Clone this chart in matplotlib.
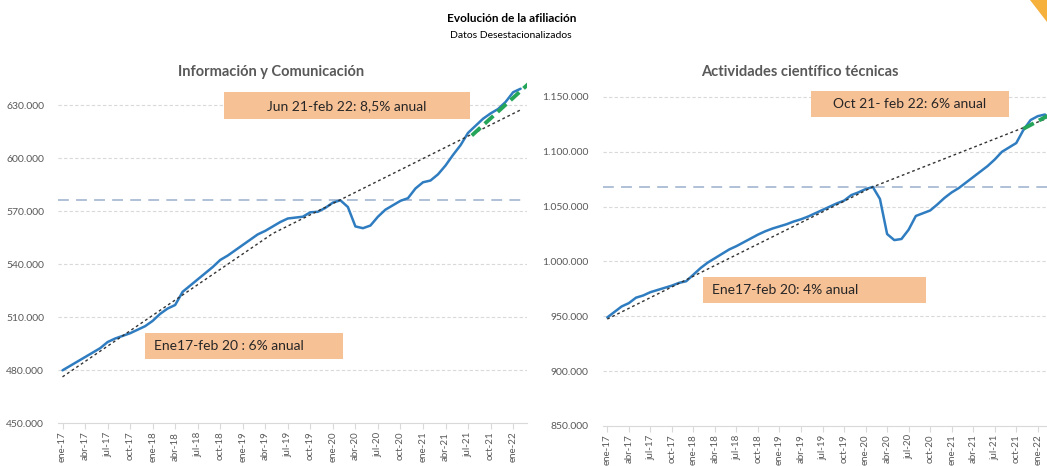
import matplotlib
matplotlib.use("Agg")
import matplotlib.pyplot as plt
from matplotlib.patches import Rectangle, Polygon
from matplotlib.ticker import FuncFormatter
import numpy as np

plt.rcParams['font.family'] = ['Lato', 'DejaVu Sans']

# ---------------- data (thousands of affiliates, monthly from ene-17) ----------------
months = list(range(62))  # ene-17 .. feb-22

info_com = [480.0, 482.5, 485.0, 487.5, 490.0, 492.5, 496.0, 498.0, 499.5, 501.0,
            503.0, 505.0, 508.0, 512.0, 515.0, 517.0, 524.5, 528.0, 531.5, 535.0,
            538.5, 542.5, 545.0, 548.0, 551.0, 554.0, 557.0, 559.0, 561.5, 564.0,
            566.0, 566.5, 567.0, 569.5, 569.8, 572.0, 575.0, 576.3, 572.5, 561.5,
            560.5, 562.0, 567.0, 571.0, 573.5, 576.0, 577.5, 583.0, 586.5, 587.5,
            591.0, 596.0, 602.0, 607.5, 614.5, 618.5, 622.5, 625.5, 628.0, 632.0,
            637.5, 639.5]

cient_tec = [949.0, 954.0, 959.0, 962.0, 967.0, 969.0, 972.0, 974.0, 976.0, 978.0,
             980.5, 982.0, 988.0, 994.0, 999.0, 1003.0, 1007.0, 1011.0, 1014.0, 1017.5,
             1021.0, 1024.5, 1027.5, 1030.0, 1032.0, 1034.0, 1036.5, 1038.5, 1041.0, 1044.0,
             1047.0, 1050.0, 1053.0, 1055.5, 1060.5, 1063.0, 1066.0, 1068.0, 1057.0, 1025.0,
             1019.5, 1020.5, 1029.0, 1041.5, 1044.0, 1046.5, 1052.0, 1058.0, 1063.0, 1067.0,
             1072.0, 1077.0, 1082.0, 1087.0, 1093.0, 1100.0, 1104.0, 1108.0, 1120.0, 1129.0,
             1132.5, 1134.0]

# dotted pre-covid trend (month index, value)
trend_ic_m = [0, 28, 61]
trend_ic_v = [476.3, 557.5, 627.5]
trend_ct_m = [0, 37, 61.5]
trend_ct_v = [947.5, 1068.0, 1131.0]

# green recent-trend segments
green_ic_m = [54.5, 62.5]
green_ic_v = [613.0, 644.0]
green_ct_m = [58.0, 62.0]
green_ct_v = [1121.0, 1135.0]

# feb-20 reference levels
ref_ic = 576.3
ref_ct = 1068.0

tick_months = list(range(0, 61, 3))
tick_labels = ['ene-17', 'abr-17', 'jul-17', 'oct-17', 'ene-18', 'abr-18', 'jul-18', 'oct-18',
               'ene-19', 'abr-19', 'jul-19', 'oct-19', 'ene-20', 'abr-20', 'jul-20', 'oct-20',
               'ene-21', 'abr-21', 'jul-21', 'oct-21', 'ene-22']

yt_ic = [450, 480, 510, 540, 570, 600, 630]
yt_ct = [850, 900, 950, 1000, 1050, 1100, 1150]

titles = ['Información y Comunicación', 'Actividades científico técnicas']
box_texts = ['Jun 21-feb 22: 8,5% anual', 'Ene17-feb 20 : 6% anual',
             'Oct 21- feb 22: 6% anual', 'Ene17-feb 20: 4% anual']

# ---------------- figure ----------------
W, H = 1047, 466
fig = plt.figure(figsize=(W / 100, H / 100), dpi=100)

def fx(px):
    return px / W

def fy(py):
    return 1 - py / H

ax1 = fig.add_axes([fx(58), fy(423.3), fx(527 - 58), (423.3 - 79) / H])
ax2 = fig.add_axes([fx(602.7), fy(426), fx(1050 - 602.7), (426 - 86) / H])

BLUE = '#2f7dc0'
GREEN = '#25a55a'
REF = '#a9bbd3'
GRID = '#d9d9d9'
TXT = '#595959'

fmt = FuncFormatter(lambda v, p: f"{int(round(v * 1000)):,}".replace(',', '.'))

def style(ax, series, tm, tv, gm, gv, ref, yticks, ylim, xlim):
    ax.plot(months, series, color=BLUE, lw=1.8, zorder=3, solid_capstyle='round')
    ax.plot(tm, tv, color='#333333', lw=1.0, ls=(0, (2, 2)), zorder=4)
    ax.plot(gm, gv, color=GREEN, lw=2.8, ls=(0, (3, 1.5)), zorder=5)
    ax.axhline(ref, color=REF, lw=1.3, ls=(0, (6, 4)), zorder=2)
    ax.set_xlim(*xlim)
    ax.set_ylim(*ylim)
    ax.set_yticks(yticks)
    ax.yaxis.set_major_formatter(fmt)
    ax.set_xticks(tick_months)
    ax.set_xticklabels(tick_labels, rotation=90, fontsize=7, color=TXT)
    for y in yticks[1:]:
        ax.axhline(y, color=GRID, lw=0.8, ls=(0, (3, 2)), zorder=1)
    for s in ['top', 'right', 'left']:
        ax.spines[s].set_visible(False)
    ax.spines['bottom'].set_color(GRID)
    ax.tick_params(axis='y', length=0, labelsize=7.5, labelcolor=TXT, pad=10)
    ax.tick_params(axis='x', length=4, color=GRID, pad=2)
    ax.set_facecolor('none')

style(ax1, info_com, trend_ic_m, trend_ic_v, green_ic_m, green_ic_v, ref_ic,
      yt_ic, (450, 645), (-0.6, 61.85))
style(ax2, cient_tec, trend_ct_m, trend_ct_v, green_ct_m, green_ct_v, ref_ct,
      yt_ct, (850, 1160), (-0.64, 61.7))

# titles
fig.text(fx(512), fy(18), 'Evolución de la afiliación', ha='center', va='center',
         fontsize=8.5, fontweight='bold', color='black')
fig.text(fx(511), fy(36), 'Datos Desestacionalizados', ha='center', va='center',
         fontsize=7.5, color='black')
fig.text(fx(271), fy(72), titles[0], ha='center', va='center', fontsize=10.5,
         fontweight='bold', color=TXT)
fig.text(fx(800), fy(72), titles[1], ha='center', va='center', fontsize=10.5,
         fontweight='bold', color=TXT)

# annotation boxes
PEACH = '#f7c196'
boxes = [(224, 92.3, 469.6, 119.3, 'center'),
         (144.6, 332.7, 342.6, 359.3, 'left'),
         (811, 90.7, 1009, 116.7, 'center'),
         (703.3, 277.3, 926, 303.3, 'left')]
for (x0, y0, x1, y1, al), txt in zip(boxes, box_texts):
    fig.add_artist(Rectangle((fx(x0), fy(y1)), fx(x1 - x0), (y1 - y0) / H,
                             transform=fig.transFigure, facecolor=PEACH,
                             edgecolor='none', zorder=6))
    if al == 'center':
        tx = fx((x0 + x1) / 2)
    else:
        tx = fx(x0 + 9)
    fig.text(tx, fy((y0 + y1) / 2), txt, ha=al, va='center', fontsize=10,
             color='#262626', zorder=7)

# decorative corner
fig.add_artist(Polygon([(fx(1030), fy(0)), (fx(1047), fy(0)), (fx(1047), fy(22))],
                       closed=True, transform=fig.transFigure, facecolor='#f6b03c',
                       edgecolor='none'))

fig.savefig('out.png', dpi=100)
